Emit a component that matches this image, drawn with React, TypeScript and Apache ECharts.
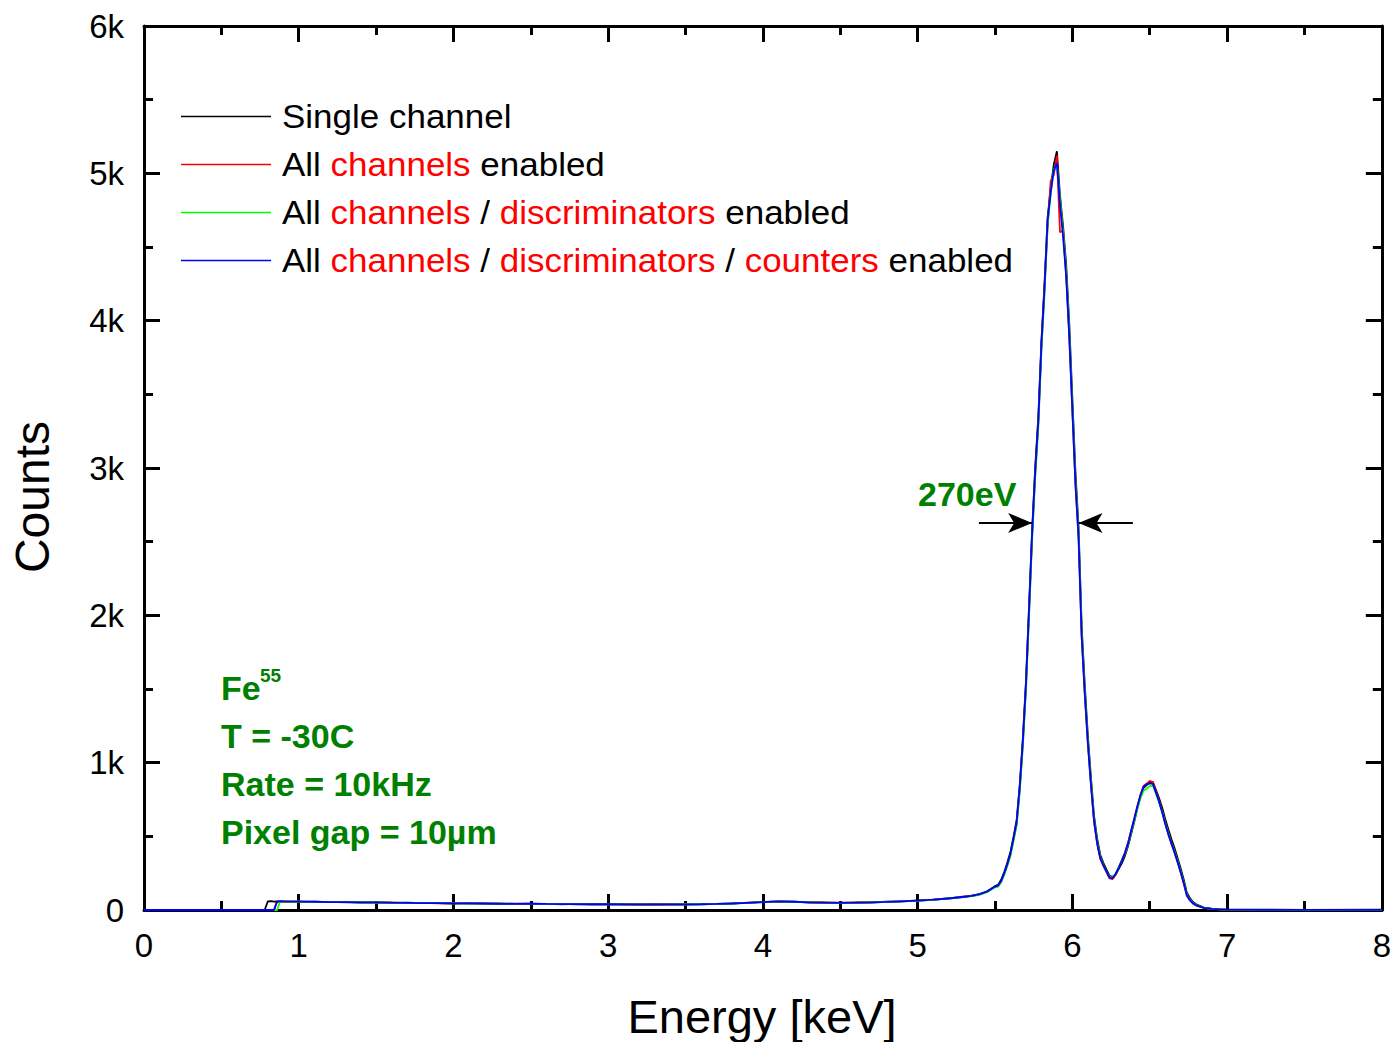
import React, { useEffect, useRef } from "react";
import * as echarts from "echarts";

// Energy axis (keV) shared by all spectra
const energy = [
  0, 0.5, 0.78, 0.8, 0.82, 0.84, 0.86, 0.88,
  0.9, 1.0, 1.1, 1.2, 1.3, 1.4, 1.5, 1.6, 1.7, 1.8, 1.9, 2.0, 2.1, 2.2, 2.3, 2.4, 2.5,
  2.6, 2.7, 2.8, 2.9, 3.0, 3.1, 3.2, 3.3, 3.4, 3.5, 3.6, 3.7, 3.8, 3.9, 4.0, 4.1, 4.2,
  4.3, 4.4, 4.5, 4.6, 4.7, 4.8, 4.9, 5.0, 5.1, 5.2, 5.3,
  5.35, 5.4, 5.45, 5.5,
  5.52, 5.54, 5.56, 5.58, 5.6, 5.62, 5.64, 5.66, 5.68, 5.7, 5.72, 5.74, 5.76, 5.78, 5.8,
  5.82, 5.84, 5.86, 5.88, 5.9, 5.92, 5.94, 5.96, 5.98, 6.0, 6.02, 6.04, 6.06, 6.08, 6.1,
  6.12, 6.14, 6.16, 6.18, 6.2, 6.22, 6.24, 6.26, 6.28, 6.3, 6.32, 6.34, 6.36, 6.38, 6.4,
  6.42, 6.44, 6.46, 6.48, 6.5, 6.52, 6.54, 6.56, 6.58, 6.6, 6.62, 6.64, 6.66, 6.68, 6.7,
  6.72, 6.74, 6.76, 6.78, 6.8,
  6.85, 6.9, 6.95, 7.0, 7.2, 7.5, 8.0,
];

const singleChannel = [
  0, 0, 0, 58, 60, 57, 59, 56,
  58, 55, 57, 53, 55, 50, 52, 49, 50, 46, 47, 44, 46, 43, 44, 41, 43, 40, 41, 39,
  40, 38, 39, 37, 39, 36, 38, 40, 40, 45, 48, 55, 57, 57, 51, 51, 48, 51, 51, 56,
  58, 65, 69, 80, 88,
  98, 108, 127, 162,
  170, 205, 258, 322, 395, 498, 612, 850, 1165, 1550, 2060, 2580, 3010, 3350, 3860,
  4250, 4700, 4900, 5060, 5150, 4850, 4640, 4380, 3980, 3470, 2970, 2600, 1930, 1530, 1185,
  900, 640, 485, 375, 320, 275, 232, 225, 240, 280, 318, 368, 435, 515, 598,
  690, 770, 830, 848, 865, 870, 815, 760, 695, 618, 548, 482, 420, 352, 282,
  205, 118, 80, 54, 38,
  16, 9, 5, 3, 2, 1, 2,
];

const allChannels = [
  0, 0, 0, 0, 0, 0, 59, 57,
  56, 58, 54, 55, 52, 53, 50, 51, 47, 48, 45, 46, 43, 45, 42, 43, 41, 42, 39, 41,
  38, 40, 37, 39, 37, 39, 37, 38, 42, 43, 50, 53, 59, 55, 53, 49, 50, 49, 53, 54,
  60, 62, 71, 77, 92,
  95, 104, 124, 156,
  162, 192, 246, 305, 378, 480, 585, 822, 1130, 1510, 2020, 2540, 2960, 3310, 3820,
  4230, 4640, 4950, 4990, 5120, 4600, 4610, 4310, 3900, 3390, 2890, 2530, 1860, 1470, 1130,
  855, 600, 452, 350, 300, 258, 215, 210, 238, 290, 340, 390, 458, 540, 622,
  705, 782, 842, 858, 876, 868, 805, 742, 668, 588, 515, 450, 390, 325, 255,
  180, 97, 65, 44, 31,
  14, 7, 4, 2, 1, 1, 1,
];

const allDiscriminators = [
  0, 0, 0, 0, 0, 0, 0, 58,
  57, 56, 55, 53, 54, 51, 51, 50, 48, 47, 46, 45, 44, 43, 43, 42, 42, 40, 40, 40,
  39, 38, 38, 38, 38, 37, 39, 39, 41, 44, 48, 54, 58, 56, 52, 50, 49, 50, 52, 55,
  58, 62, 69, 78, 89,
  94, 105, 122, 154,
  158, 190, 240, 300, 366, 470, 575, 805, 1110, 1490, 1995, 2515, 2940, 3280, 3800,
  4180, 4650, 4860, 5030, 5060, 4830, 4600, 4330, 3930, 3420, 2920, 2560, 1890, 1495, 1150,
  870, 615, 462, 358, 306, 262, 224, 220, 248, 292, 338, 382, 446, 528, 605,
  688, 758, 810, 825, 840, 845, 790, 735, 668, 592, 522, 458, 398, 332, 262,
  188, 104, 70, 47, 34,
  15, 8, 4, 2, 1, 0, 1,
];

const allCounters = [
  0, 0, 0, 0, 0, 0, 57, 60,
  59, 57, 56, 54, 53, 52, 52, 50, 49, 47, 46, 45, 45, 44, 42, 42, 43, 41, 40, 40,
  39, 39, 38, 38, 38, 38, 38, 39, 41, 44, 49, 54, 58, 56, 52, 50, 49, 50, 52, 55,
  59, 63, 70, 78, 90,
  96, 107, 126, 159,
  166, 197, 252, 312, 384, 488, 596, 836, 1148, 1530, 2040, 2560, 2980, 3320, 3840,
  4220, 4680, 4870, 5020, 5070, 4790, 4570, 4300, 3890, 3390, 2890, 2530, 1860, 1470, 1135,
  852, 605, 455, 350, 305, 262, 220, 215, 246, 288, 336, 388, 452, 538, 618,
  702, 778, 838, 852, 860, 856, 798, 736, 665, 585, 516, 452, 392, 326, 256,
  182, 98, 66, 45, 32,
  14, 8, 4, 2, 1, 1, 1,
];

const seriesNames = [
  "Single channel",
  "All channels enabled",
  "All channels / discriminators enabled",
  "All channels / discriminators / counters enabled",
];
const seriesColors = ["#000000", "#ff0000", "#00ff00", "#0000ff"];
const xTicks = [0, 1, 2, 3, 4, 5, 6, 7, 8];
const yTickLabels = ["0", "1k", "2k", "3k", "4k", "5k", "6k"];
const annotationLines = ["T = -30C", "Rate = 10kHz", "Pixel gap = 10µm"];
// FWHM arrows: [startE, endE, counts]
const fwhmArrows = [
  [5.396, 5.74, 2627],
  [6.391, 6.04, 2627],
];

const FONT = "'Liberation Sans', Arial, sans-serif";
const GREEN = "#008000";

export default function App() {
  const ref = useRef<HTMLDivElement>(null);

  useEffect(() => {
    document.body.style.margin = "0";
    const chart = echarts.init(ref.current!, null, { renderer: "svg" });
    const spectra = [singleChannel, allChannels, allDiscriminators, allCounters];

    const axisLine = { show: true, onZero: false, lineStyle: { color: "#000", width: 3 } };
    const axisTick = { show: true, inside: true, length: 16, lineStyle: { color: "#000", width: 3 } };
    const minorTick = { show: true, splitNumber: 2, length: 9, lineStyle: { color: "#000", width: 3 } };
    const baseX = {
      type: "value",
      min: xTicks[0],
      max: xTicks[xTicks.length - 1],
      interval: 1,
      axisLine,
      axisTick,
      minorTick,
      splitLine: { show: false },
      minorSplitLine: { show: false },
    };
    const baseY = {
      type: "value",
      min: 0,
      max: 6000,
      interval: 1000,
      axisLine,
      axisTick,
      minorTick,
      splitLine: { show: false },
      minorSplitLine: { show: false },
    };

    const series: any[] = spectra.map((ys, i) => ({
      name: seriesNames[i],
      type: "line",
      data: energy.map((e, k) => [e, ys[k]]),
      showSymbol: false,
      symbol: "none",
      lineStyle: { color: seriesColors[i], width: 1.8 },
      itemStyle: { color: seriesColors[i] },
      silent: true,
      z: 2 + i,
    }));
    series.push({
      type: "line",
      data: [],
      silent: true,
      z: 10,
      markLine: {
        silent: true,
        animation: false,
        symbol: ["none", "arrow"],
        symbolSize: [15, 24],
        label: { show: false },
        lineStyle: { color: "#000", width: 2, type: "solid" },
        data: fwhmArrows.map((a) => [{ coord: [a[0], a[2]] }, { coord: [a[1], a[2]] }]),
      },
    });

    const legendRows = [
      "{k|Single channel}",
      "{k|All }{r|channels}{k| enabled}",
      "{k|All }{r|channels}{k| / }{r|discriminators}{k| enabled}",
      "{k|All }{r|channels}{k| / }{r|discriminators}{k| / }{r|counters}{k| enabled}",
    ];
    const legendY = [116.5, 164.5, 212.5, 260.5];
    const graphic: any[] = [];
    legendRows.forEach((t, i) => {
      graphic.push({
        type: "line",
        z: 20,
        shape: { x1: 181, y1: legendY[i], x2: 271, y2: legendY[i] },
        style: { stroke: seriesColors[i], lineWidth: 1.3 },
        silent: true,
      });
      graphic.push({
        type: "text",
        x: 282,
        y: legendY[i] - 0.5,
        scaleX: 1.06,
        silent: true,
        style: {
          text: t,
          fontFamily: FONT,
          fontSize: 33,
          fill: "#000",
          verticalAlign: "middle",
          align: "left",
          rich: {
            k: { fill: "#000", fontSize: 33, fontFamily: FONT },
            r: { fill: "#ff0000", fontSize: 33, fontFamily: FONT },
          },
        },
      });
    });
    graphic.push({
      type: "text",
      x: 221,
      y: 688,
      silent: true,
      style: { text: "Fe", fontFamily: FONT, fontSize: 34, fontWeight: "bold", fill: GREEN, verticalAlign: "middle" },
    });
    graphic.push({
      type: "text",
      x: 260,
      y: 675,
      silent: true,
      style: { text: "55", fontFamily: FONT, fontSize: 19, fontWeight: "bold", fill: GREEN, verticalAlign: "middle" },
    });
    annotationLines.forEach((t, i) => {
      graphic.push({
        type: "text",
        x: 221,
        y: 736 + i * 48,
        silent: true,
        style: { text: t, fontFamily: FONT, fontSize: 34, fontWeight: "bold", fill: GREEN, verticalAlign: "middle" },
      });
    });
    graphic.push({
      type: "text",
      x: 918,
      y: 494,
      silent: true,
      style: { text: "270eV", fontFamily: FONT, fontSize: 34, fontWeight: "bold", fill: GREEN, verticalAlign: "middle" },
    });
    graphic.push({
      type: "text",
      x: 32,
      y: 497,
      rotation: Math.PI / 2,
      silent: true,
      style: { text: "Counts", fontFamily: FONT, fontSize: 48, fill: "#000", align: "center", verticalAlign: "middle" },
    });
    graphic.push({
      type: "text",
      x: 762,
      y: 1016,
      silent: true,
      style: { text: "Energy [keV]", fontFamily: FONT, fontSize: 47, fill: "#000", align: "center", verticalAlign: "middle" },
    });

    chart.setOption({
      animation: false,
      backgroundColor: "#ffffff",
      grid: { left: 144, right: 12, top: 26, bottom: 132, containLabel: false },
      xAxis: [
        {
          ...baseX,
          position: "bottom",
          axisLabel: { show: true, fontSize: 33, color: "#000", fontFamily: FONT, margin: 19 },
        },
        { ...baseX, position: "top", axisLabel: { show: false } },
      ],
      yAxis: [
        {
          ...baseY,
          position: "left",
          axisLabel: {
            show: true,
            fontSize: 33,
            color: "#000",
            fontFamily: FONT,
            margin: 20,
            formatter: (v: number) => yTickLabels[Math.round(v / 1000)] ?? "",
          },
        },
        { ...baseY, position: "right", axisLabel: { show: false } },
      ],
      series,
      graphic,
    });

    return () => chart.dispose();
  }, []);

  return <div ref={ref} style={{ width: 1394, height: 1042 }} />;
}
